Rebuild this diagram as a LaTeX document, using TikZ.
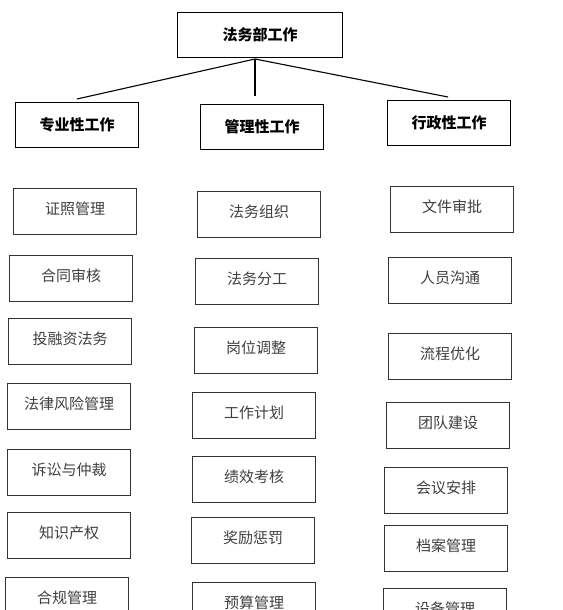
\documentclass[tikz,border=0pt]{standalone}
\usepackage{fontspec}
\newfontfamily\cjk{Noto Sans CJK SC}
\usetikzlibrary{positioning}

\tikzset{
    headbox/.style={draw=black, line width=1.3pt, minimum width=123pt, minimum height=45pt,
        anchor=north west, inner sep=0pt, font=\cjk\bfseries\fontsize{15}{15}\selectfont},
    itembox/.style={draw=black!80, line width=1.3pt, minimum width=123pt, minimum height=46pt,
        anchor=north west, inner sep=0pt, text=black!75, text height=12pt, text depth=6pt,
        font=\cjk\fontsize{15}{15}\selectfont},
    linkline/.style={line width=1.1pt}
}

\begin{document}
\begin{tikzpicture}[x=1pt, y=-1pt]
    \path[use as bounding box, fill=white] (0,0) rectangle (562,610);
    \clip (0,0) rectangle (562,610);

    % top and second level
    \node[headbox, minimum width=165pt] (top) at (177,12) {法务部工作};
    \node[headbox] (prof) at (15,102) {专业性工作};
    \node[headbox] (mgmt) at (200,104) {管理性工作};
    \node[headbox] (admin) at (387,100) {行政性工作};

    % links
    \coordinate (hub) at (255,59);
    \coordinate (profend) at (77,99);
    \coordinate (mgmtend) at (255,96);
    \coordinate (adminend) at (448,97);
    \foreach \e in {profend, mgmtend, adminend}
        \draw[linkline] (hub) -- (\e);

    % professional work
    \foreach \i/\x/\y/\txt in {1/13/188/证照管理, 2/9/255/合同审核, 3/8/318/投融资法务,
        4/7/383/法律风险管理, 5/7/449/诉讼与仲裁, 6/7/512/知识产权, 7/5/577/合规管理}
        \node[itembox] (prof\i) at (\x,\y) {\txt};

    % management work
    \foreach \i/\x/\y/\txt in {1/197/191/法务组织, 2/195/258/法务分工, 3/194/327/岗位调整,
        4/192/392/工作计划, 5/192/456/绩效考核, 6/191/517/奖励惩罚, 7/192/582/预算管理}
        \node[itembox] (mgmt\i) at (\x,\y) {\txt};

    % administrative work
    \foreach \i/\x/\y/\txt in {1/390/186/文件审批, 2/388/257/人员沟通, 3/388/333/流程优化,
        4/386/402/团队建设, 5/384/467/会议安排, 6/384/525/档案管理, 7/383/588/设备管理}
        \node[itembox] (admin\i) at (\x,\y) {\txt};
\end{tikzpicture}
\end{document}
